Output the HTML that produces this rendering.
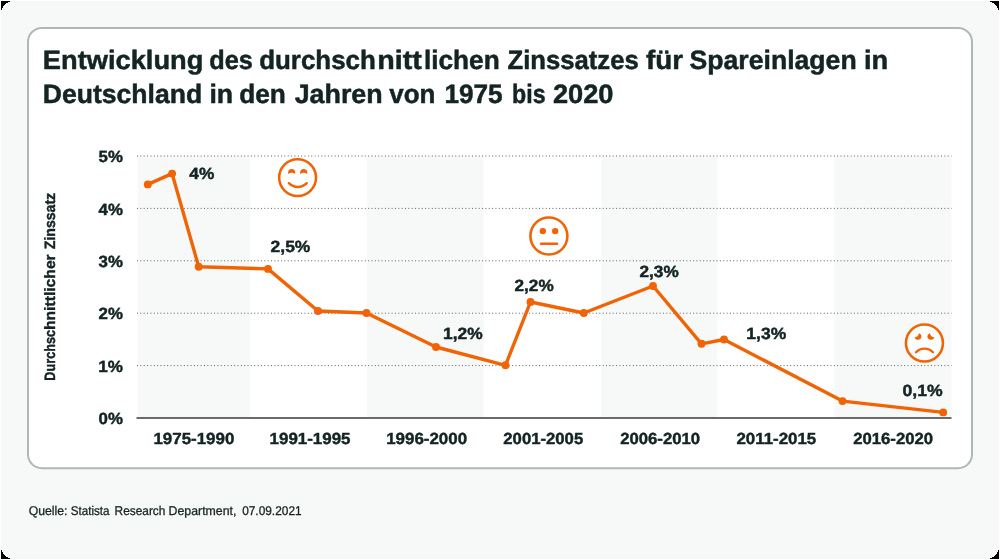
<!DOCTYPE html>
<html lang="de">
<head>
<meta charset="utf-8">
<title>Zinssatz Spareinlagen</title>
<style>
html,body{margin:0;padding:0;background:#ffffff;}
body{width:1000px;height:560px;overflow:hidden;font-family:"Liberation Sans",sans-serif;}
#wrap{width:1000px;height:560px;will-change:transform;}
svg{display:block;}
text{font-family:"Liberation Sans",sans-serif;fill:#142323;text-rendering:geometricPrecision;}
</style>
</head>
<body>
<div id="wrap">
<svg width="1000" height="560" viewBox="0 0 1000 560">
  <rect x="0" y="0" width="1000" height="560" fill="#ffffff"/>
  <rect x="1" y="1" width="998" height="558" fill="#f7f9f8"/>
  <g fill="#000000" shape-rendering="crispEdges">
    <path d="M1,1 L11,1 Q3.6,3.6 1,11 Z"/>
    <path d="M999,1 L989,1 Q996.4,3.6 999,11 Z"/>
    <path d="M1,559 L11,559 Q3.6,556.4 1,549 Z"/>
    <path d="M999,559 L989,559 Q996.4,556.4 999,549 Z"/>
  </g>
  <rect x="28" y="27.9" width="944" height="440.3" rx="14" ry="14" fill="#ffffff" stroke="#b0b8b7" stroke-width="2"/>
  <g fill="#f7f9f8">
    <rect x="137.5" y="156" width="112.8" height="261"/>
    <rect x="367.2" y="156" width="116.5" height="261"/>
    <rect x="601.3" y="156" width="116.3" height="261"/>
    <rect x="834.3" y="156" width="117.2" height="261"/>
  </g>
  <g stroke="#606060" stroke-width="1" stroke-dasharray="1 2.35" fill="none">
    <line x1="137" y1="156" x2="951.5" y2="156"/>
    <line x1="137" y1="208.4" x2="951.5" y2="208.4"/>
    <line x1="137" y1="260.8" x2="951.5" y2="260.8"/>
    <line x1="137" y1="313.2" x2="951.5" y2="313.2"/>
    <line x1="137" y1="365.6" x2="951.5" y2="365.6"/>
  </g>
  <line x1="136.5" y1="418" x2="951.5" y2="418" stroke="#6a6a6a" stroke-width="2.1"/>
  <g fill="#ffffff" stroke="#f16305" stroke-width="2.55">
    <circle cx="297.6" cy="177.6" r="18.45"/>
    <circle cx="548.9" cy="236.05" r="18.5"/>
    <circle cx="924.45" cy="343.05" r="18.5"/>
  </g>
  <g fill="#f16305" stroke="none">
    <path d="M288.1,173.9 L288.1,172.6 A3.55,3.55 0 0 1 295.2,172.6 L295.2,173.9 Q291.65,171.8 288.1,173.9 Z"/>
    <path d="M300.15,173.9 L300.15,172.6 A3.55,3.55 0 0 1 307.25,172.6 L307.25,173.9 Q303.7,171.8 300.15,173.9 Z"/>
    <circle cx="542.8" cy="231.1" r="3.2"/><circle cx="555.2" cy="231.1" r="3.2"/>
    <path d="M919,333.2 C921.6,334 922.2,337 920.6,338.8 C919,340.6 915.4,340 914.55,337.2 Q917.9,337 919,333.2 Z"/>
    <path d="M929.9,333.2 C927.3,334 926.7,337 928.3,338.8 C929.9,340.6 933.5,340 934.35,337.2 Q931,337 929.9,333.2 Z"/>
  </g>
  <g fill="none" stroke="#f16305" stroke-width="2.3" stroke-linecap="round">
    <path d="M288.9,183.2 A12.4,12.4 0 0 0 306.7,183.2" stroke-width="2.45"/>
    <path d="M541.1,243.75 L557,243.75" stroke-width="2.5"/>
    <path d="M916.0,352.3 A11.6,11.6 0 0 1 933.0,352.3"/>
  </g>
  <polyline fill="none" stroke="#f16305" stroke-width="3.4" stroke-linejoin="round" stroke-linecap="round" points="147.8,184.4 172.1,173.6 198.7,266.8 268,268.9 318,311 366.5,313 436,347 505.5,365.3 530.5,302 583.8,313 653,286 701.5,343.8 724,339.5 842.5,401.1 943.2,412.4"/>
  <g fill="#f16305"><circle cx="147.8" cy="184.4" r="3.95"/><circle cx="172.1" cy="173.6" r="3.95"/><circle cx="198.7" cy="266.8" r="3.95"/><circle cx="268" cy="268.9" r="3.95"/><circle cx="318" cy="311" r="3.95"/><circle cx="366.5" cy="313" r="3.95"/><circle cx="436" cy="347" r="3.95"/><circle cx="505.5" cy="365.3" r="3.95"/><circle cx="530.5" cy="302" r="3.95"/><circle cx="583.8" cy="313" r="3.95"/><circle cx="653" cy="286" r="3.95"/><circle cx="701.5" cy="343.8" r="3.95"/><circle cx="724" cy="339.5" r="3.95"/><circle cx="842.5" cy="401.1" r="3.95"/><circle cx="943.2" cy="412.4" r="3.95"/></g>
  <text x="42.82" y="68.80" font-size="26.5" textLength="160.55" lengthAdjust="spacingAndGlyphs" font-weight="bold" stroke="#142323" stroke-width="0.5">Entwicklung</text>
  <text x="209.30" y="68.80" font-size="26.5" textLength="43.56" lengthAdjust="spacingAndGlyphs" font-weight="bold" stroke="#142323" stroke-width="0.5">des</text>
  <text x="259.17" y="68.80" font-size="26.5" textLength="116.64" lengthAdjust="spacingAndGlyphs" font-weight="bold" stroke="#142323" stroke-width="0.5">durchsch</text>
  <text x="377.17" y="68.80" font-size="26.5" textLength="44.59" lengthAdjust="spacingAndGlyphs" font-weight="bold" stroke="#142323" stroke-width="0.5">nitt</text>
  <text x="423.96" y="68.80" font-size="26.5" textLength="75.76" lengthAdjust="spacingAndGlyphs" font-weight="bold" stroke="#142323" stroke-width="0.5">lichen</text>
  <text x="507.55" y="68.80" font-size="26.5" textLength="131.11" lengthAdjust="spacingAndGlyphs" font-weight="bold" stroke="#142323" stroke-width="0.5">Zinssatzes</text>
  <text x="645.95" y="68.80" font-size="26.5" textLength="37.13" lengthAdjust="spacingAndGlyphs" font-weight="bold" stroke="#142323" stroke-width="0.5">für</text>
  <text x="689.55" y="68.80" font-size="26.5" textLength="167.09" lengthAdjust="spacingAndGlyphs" font-weight="bold" stroke="#142323" stroke-width="0.5">Spareinlagen</text>
  <text x="863.92" y="68.80" font-size="26.5" textLength="24.25" lengthAdjust="spacingAndGlyphs" font-weight="bold" stroke="#142323" stroke-width="0.5">in</text>
  <text x="42.85" y="103.30" font-size="26.5" textLength="159.29" lengthAdjust="spacingAndGlyphs" font-weight="bold" stroke="#142323" stroke-width="0.5">Deutschland</text>
  <text x="209.44" y="103.30" font-size="26.5" textLength="23.70" lengthAdjust="spacingAndGlyphs" font-weight="bold" stroke="#142323" stroke-width="0.5">in</text>
  <text x="239.16" y="103.30" font-size="26.5" textLength="46.67" lengthAdjust="spacingAndGlyphs" font-weight="bold" stroke="#142323" stroke-width="0.5">den</text>
  <text x="294.65" y="103.30" font-size="26.5" textLength="88.00" lengthAdjust="spacingAndGlyphs" font-weight="bold" stroke="#142323" stroke-width="0.5">Jahren</text>
  <text x="389.25" y="103.30" font-size="26.5" textLength="46.16" lengthAdjust="spacingAndGlyphs" font-weight="bold" stroke="#142323" stroke-width="0.5">von</text>
  <text x="444.46" y="103.30" font-size="26.5" textLength="58.22" lengthAdjust="spacingAndGlyphs" font-weight="bold" stroke="#142323" stroke-width="0.5">1975</text>
  <text x="512.07" y="103.30" font-size="26.5" textLength="33.52" lengthAdjust="spacingAndGlyphs" font-weight="bold" stroke="#142323" stroke-width="0.5">bis</text>
  <text x="552.95" y="103.30" font-size="26.5" textLength="60.56" lengthAdjust="spacingAndGlyphs" font-weight="bold" stroke="#142323" stroke-width="0.5">2020</text>
  <text x="98.52" y="162.20" font-size="16.2" textLength="24.36" lengthAdjust="spacingAndGlyphs" font-weight="bold" stroke="#142323" stroke-width="0.45">5%</text>
  <text x="98.52" y="214.60" font-size="16.2" textLength="24.36" lengthAdjust="spacingAndGlyphs" font-weight="bold" stroke="#142323" stroke-width="0.45">4%</text>
  <text x="98.52" y="267.00" font-size="16.2" textLength="24.36" lengthAdjust="spacingAndGlyphs" font-weight="bold" stroke="#142323" stroke-width="0.45">3%</text>
  <text x="98.52" y="319.40" font-size="16.2" textLength="24.36" lengthAdjust="spacingAndGlyphs" font-weight="bold" stroke="#142323" stroke-width="0.45">2%</text>
  <text x="98.17" y="371.80" font-size="16.2" textLength="24.72" lengthAdjust="spacingAndGlyphs" font-weight="bold" stroke="#142323" stroke-width="0.45">1%</text>
  <text x="98.52" y="424.20" font-size="16.2" textLength="24.36" lengthAdjust="spacingAndGlyphs" font-weight="bold" stroke="#142323" stroke-width="0.45">0%</text>
  <text x="153.42" y="444.10" font-size="16.0" textLength="80.90" lengthAdjust="spacingAndGlyphs" font-weight="bold" stroke="#142323" stroke-width="0.45">1975-1990</text>
  <text x="269.57" y="444.10" font-size="16.0" textLength="80.90" lengthAdjust="spacingAndGlyphs" font-weight="bold" stroke="#142323" stroke-width="0.45">1991-1995</text>
  <text x="386.17" y="444.10" font-size="16.0" textLength="80.90" lengthAdjust="spacingAndGlyphs" font-weight="bold" stroke="#142323" stroke-width="0.45">1996-2000</text>
  <text x="503.33" y="444.10" font-size="16.0" textLength="79.84" lengthAdjust="spacingAndGlyphs" font-weight="bold" stroke="#142323" stroke-width="0.45">2001-2005</text>
  <text x="620.23" y="444.10" font-size="16.0" textLength="79.84" lengthAdjust="spacingAndGlyphs" font-weight="bold" stroke="#142323" stroke-width="0.45">2006-2010</text>
  <text x="736.43" y="444.10" font-size="16.0" textLength="79.84" lengthAdjust="spacingAndGlyphs" font-weight="bold" stroke="#142323" stroke-width="0.45">2011-2015</text>
  <text x="853.23" y="444.10" font-size="16.0" textLength="79.84" lengthAdjust="spacingAndGlyphs" font-weight="bold" stroke="#142323" stroke-width="0.45">2016-2020</text>
  <text x="189.32" y="179.15" font-size="16.2" textLength="24.97" lengthAdjust="spacingAndGlyphs" font-weight="bold" stroke="#142323" stroke-width="0.45">4%</text>
  <text x="270.63" y="251.55" font-size="16.2" textLength="39.77" lengthAdjust="spacingAndGlyphs" font-weight="bold" stroke="#142323" stroke-width="0.45">2,5%</text>
  <text x="443.10" y="338.75" font-size="16.2" textLength="39.60" lengthAdjust="spacingAndGlyphs" font-weight="bold" stroke="#142323" stroke-width="0.45">1,2%</text>
  <text x="514.52" y="290.50" font-size="16.2" textLength="39.17" lengthAdjust="spacingAndGlyphs" font-weight="bold" stroke="#142323" stroke-width="0.45">2,2%</text>
  <text x="639.52" y="276.75" font-size="16.2" textLength="39.17" lengthAdjust="spacingAndGlyphs" font-weight="bold" stroke="#142323" stroke-width="0.45">2,3%</text>
  <text x="746.34" y="339.00" font-size="16.2" textLength="39.86" lengthAdjust="spacingAndGlyphs" font-weight="bold" stroke="#142323" stroke-width="0.45">1,3%</text>
  <text x="902.52" y="396.15" font-size="16.2" textLength="40.18" lengthAdjust="spacingAndGlyphs" font-weight="bold" stroke="#142323" stroke-width="0.45">0,1%</text>
  <text x="28.65" y="514.80" font-size="12.7" textLength="38.81" lengthAdjust="spacingAndGlyphs" fill="#1e2222" stroke="#1e2222" stroke-width="0.3">Quelle:</text>
  <text x="70.75" y="514.80" font-size="12.7" textLength="38.83" lengthAdjust="spacingAndGlyphs" fill="#1e2222" stroke="#1e2222" stroke-width="0.3">Statista</text>
  <text x="114.61" y="514.80" font-size="12.7" textLength="50.79" lengthAdjust="spacingAndGlyphs" fill="#1e2222" stroke="#1e2222" stroke-width="0.3">Research</text>
  <text x="168.58" y="514.80" font-size="12.7" textLength="67.78" lengthAdjust="spacingAndGlyphs" fill="#1e2222" stroke="#1e2222" stroke-width="0.3">Department,</text>
  <text x="242.15" y="514.80" font-size="12.7" textLength="59.45" lengthAdjust="spacingAndGlyphs" fill="#1e2222" stroke="#1e2222" stroke-width="0.3">07.09.2021</text>
  <text transform="translate(55.3 380) rotate(-90)" x="-0.65" y="0" font-size="15.0" font-weight="bold" textLength="50.73" lengthAdjust="spacingAndGlyphs" stroke="#142323" stroke-width="0.4">Durchsc</text>
  <text transform="translate(55.3 380) rotate(-90)" x="49.95" y="0" font-size="15.0" font-weight="bold" textLength="75.78" lengthAdjust="spacingAndGlyphs" stroke="#142323" stroke-width="0.4">hnittlicher</text>
  <text transform="translate(55.3 380) rotate(-90)" x="130.80" y="0" font-size="15.0" font-weight="bold" textLength="56.37" lengthAdjust="spacingAndGlyphs" stroke="#142323" stroke-width="0.4">Zinssatz</text>
</svg>
</div>
</body>
</html>
